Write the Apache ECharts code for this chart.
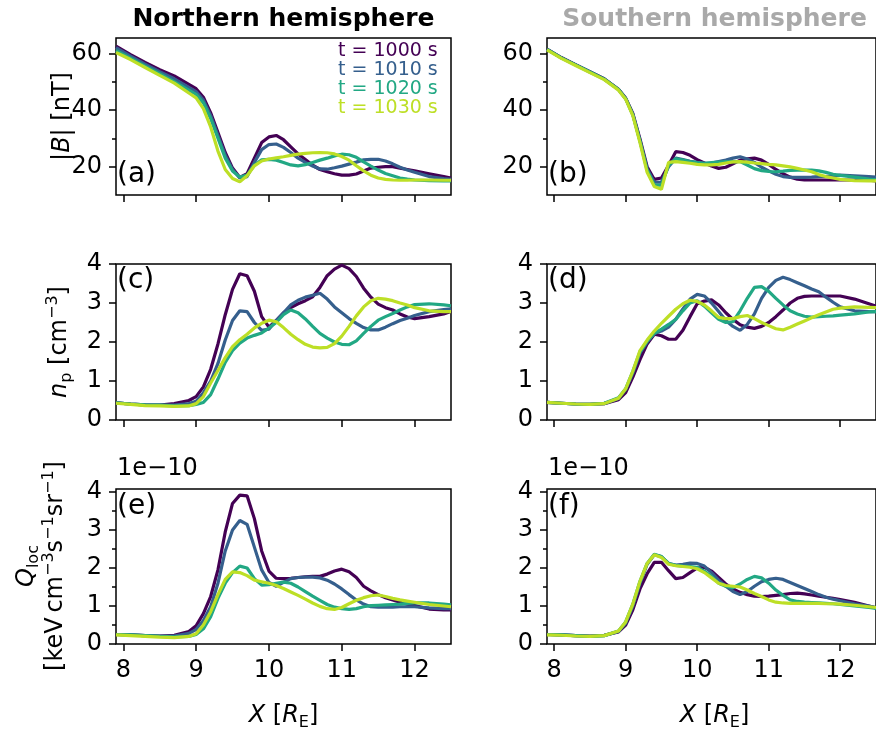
<!DOCTYPE html>
<html>
<head>
<meta charset="UTF-8">
<title>hemispheres</title>
<script src="https://cdn.jsdelivr.net/npm/echarts@6/dist/echarts.min.js"></script>
<style>
  html, body { margin: 0; padding: 0; background: #fff; }
  #chart { width: 876px; height: 730px; }
</style>
</head>
<body>
<div id="chart"></div>
<script>
// x positions along the cut [R_E]
const X = [7.9, 8.1, 8.3, 8.5, 8.7, 8.9, 9.0, 9.1, 9.2, 9.3, 9.4, 9.5, 9.6, 9.7, 9.8, 9.9,
  10.0, 10.1, 10.2, 10.3, 10.4, 10.5, 10.6, 10.7, 10.8, 10.9, 11.0, 11.1, 11.2, 11.3, 11.4,
  11.5, 11.6, 11.7, 11.8, 11.9, 12.0, 12.2, 12.4, 12.5];
const times = ['t = 1000 s', 't = 1010 s', 't = 1020 s', 't = 1030 s'];
const colors = ['#440154', '#355f8d', '#22a884', '#bddf26'];
const xTicks = [8, 9, 10, 11, 12];

// |B| [nT], northern
const bN1000 = [62.5, 59.5, 56.8, 54.2, 52.0, 49.0, 47.5, 44.5, 39.0, 32.0, 25.0, 19.5, 16.2, 17.5, 23.0, 28.5, 30.5, 31.0, 29.5, 27.0, 24.5, 22.5, 20.5, 19.0, 18.2, 17.5, 17.0, 17.0, 17.4, 18.5, 19.5, 19.8, 20.0, 20.0, 19.5, 19.0, 18.5, 17.5, 16.5, 16.0];
const bN1010 = [62.0, 59.0, 56.2, 53.5, 51.0, 48.0, 46.5, 43.5, 38.0, 31.0, 24.0, 19.0, 16.0, 16.5, 21.5, 26.0, 27.8, 28.0, 26.8, 25.0, 23.0, 21.5, 20.2, 19.2, 19.1, 19.6, 20.2, 20.9, 21.6, 22.4, 22.6, 22.6, 22.0, 21.0, 19.8, 18.8, 18.0, 16.5, 15.8, 15.5];
const bN1020 = [61.0, 58.3, 55.5, 52.8, 50.0, 47.0, 45.5, 42.5, 37.0, 30.0, 23.0, 18.5, 16.3, 17.0, 20.5, 22.4, 22.6, 22.3, 21.5, 20.6, 20.3, 20.7, 21.5, 22.3, 23.0, 23.8, 24.4, 24.2, 23.3, 21.7, 20.2, 18.8, 17.6, 16.8, 16.0, 15.6, 15.3, 15.1, 15.0, 15.0];
const bN1030 = [60.3, 57.8, 55.0, 52.2, 49.5, 46.0, 44.3, 40.5, 34.0, 25.5, 19.0, 15.8, 14.7, 16.8, 20.3, 22.0, 22.7, 23.1, 23.5, 24.0, 24.4, 24.7, 24.9, 25.0, 24.9, 24.5, 23.6, 22.3, 20.3, 18.5, 17.0, 16.0, 15.5, 15.3, 15.2, 15.2, 15.3, 15.3, 15.2, 15.2];
// |B| [nT], southern
const bS1000 = [61.5, 58.5, 56.0, 53.5, 51.0, 47.3, 44.2, 38.8, 29.8, 20.0, 15.5, 16.0, 20.5, 25.3, 25.0, 24.0, 22.5, 21.3, 20.2, 19.4, 19.8, 21.0, 22.3, 22.8, 23.0, 22.3, 20.8, 19.0, 17.5, 16.3, 15.6, 15.3, 15.3, 15.3, 15.3, 15.3, 15.3, 15.3, 15.2, 15.0];
const bS1010 = [61.4, 58.4, 55.9, 53.4, 50.9, 47.2, 44.0, 38.5, 29.2, 19.2, 14.5, 14.5, 20.0, 23.0, 22.5, 21.9, 21.5, 21.2, 21.3, 21.8, 22.3, 23.0, 23.5, 22.7, 21.5, 19.8, 18.5, 17.3, 16.5, 16.2, 16.2, 16.2, 16.3, 16.5, 16.6, 16.8, 17.0, 16.8, 16.5, 16.3];
const bS1020 = [61.4, 58.4, 55.9, 53.4, 50.9, 47.2, 44.0, 38.3, 29.0, 18.8, 13.5, 13.5, 20.5, 22.8, 22.3, 21.8, 21.4, 21.2, 21.4, 21.6, 21.8, 21.8, 21.8, 20.6, 19.3, 18.6, 18.3, 18.2, 18.4, 18.7, 18.8, 18.8, 18.8, 18.5, 18.0, 17.3, 16.9, 16.3, 15.6, 15.3];
const bS1030 = [61.2, 58.2, 55.7, 53.2, 50.7, 47.0, 43.8, 38.0, 28.5, 18.0, 13.0, 12.0, 21.5, 21.8, 21.5, 21.2, 20.8, 20.6, 20.6, 20.8, 21.3, 21.7, 21.8, 21.6, 21.3, 21.1, 20.8, 20.6, 20.3, 19.9, 19.4, 18.8, 18.2, 17.2, 16.5, 16.0, 15.5, 15.1, 15.0, 15.0];

// n_p [cm^-3], northern
const nN1000 = [0.44, 0.41, 0.39, 0.38, 0.42, 0.50, 0.60, 0.85, 1.30, 1.95, 2.70, 3.35, 3.75, 3.70, 3.30, 2.65, 2.38, 2.55, 2.75, 2.88, 2.98, 3.06, 3.16, 3.40, 3.70, 3.87, 3.97, 3.88, 3.68, 3.38, 3.15, 2.97, 2.88, 2.82, 2.72, 2.64, 2.60, 2.65, 2.72, 2.78];
const nN1010 = [0.44, 0.41, 0.39, 0.38, 0.38, 0.42, 0.48, 0.70, 1.00, 1.45, 2.05, 2.55, 2.80, 2.78, 2.50, 2.30, 2.33, 2.55, 2.75, 2.95, 3.07, 3.15, 3.20, 3.25, 3.10, 2.90, 2.75, 2.60, 2.48, 2.37, 2.31, 2.31, 2.38, 2.47, 2.55, 2.61, 2.68, 2.78, 2.83, 2.85];
const nN1020 = [0.44, 0.41, 0.39, 0.38, 0.36, 0.37, 0.40, 0.45, 0.65, 1.05, 1.48, 1.78, 1.97, 2.10, 2.17, 2.23, 2.36, 2.50, 2.70, 2.82, 2.75, 2.59, 2.40, 2.22, 2.10, 2.00, 1.94, 1.93, 2.03, 2.22, 2.40, 2.56, 2.65, 2.73, 2.82, 2.90, 2.96, 2.98, 2.95, 2.93];
const nN1030 = [0.43, 0.40, 0.37, 0.36, 0.35, 0.36, 0.42, 0.60, 0.95, 1.27, 1.60, 1.88, 2.06, 2.20, 2.36, 2.48, 2.56, 2.52, 2.37, 2.20, 2.06, 1.94, 1.87, 1.85, 1.86, 1.96, 2.15, 2.40, 2.67, 2.90, 3.06, 3.12, 3.10, 3.06, 3.00, 2.95, 2.88, 2.80, 2.78, 2.78];
// n_p [cm^-3], southern
const nS1000 = [0.45, 0.43, 0.41, 0.40, 0.42, 0.52, 0.70, 1.10, 1.55, 1.95, 2.20, 2.16, 2.07, 2.07, 2.30, 2.65, 2.98, 3.05, 3.08, 2.95, 2.75, 2.58, 2.44, 2.38, 2.35, 2.40, 2.50, 2.65, 2.82, 3.00, 3.12, 3.17, 3.18, 3.18, 3.18, 3.18, 3.18, 3.10, 2.98, 2.92];
const nS1010 = [0.45, 0.43, 0.41, 0.40, 0.42, 0.55, 0.78, 1.20, 1.72, 2.00, 2.22, 2.28, 2.38, 2.58, 2.85, 3.10, 3.22, 3.18, 3.00, 2.78, 2.55, 2.40, 2.30, 2.45, 2.72, 3.12, 3.40, 3.58, 3.66, 3.60, 3.52, 3.44, 3.36, 3.29, 3.15, 3.02, 2.90, 2.80, 2.78, 2.78];
const nS1020 = [0.45, 0.43, 0.41, 0.40, 0.43, 0.57, 0.80, 1.25, 1.75, 2.02, 2.22, 2.33, 2.45, 2.58, 2.80, 3.00, 3.06, 2.92, 2.75, 2.58, 2.50, 2.52, 2.80, 3.12, 3.40, 3.42, 3.30, 3.12, 2.95, 2.80, 2.72, 2.66, 2.64, 2.65, 2.66, 2.67, 2.69, 2.72, 2.77, 2.78];
const nS1030 = [0.45, 0.43, 0.41, 0.40, 0.42, 0.56, 0.80, 1.25, 1.78, 2.05, 2.28, 2.48, 2.66, 2.84, 2.98, 3.07, 3.04, 2.95, 2.80, 2.63, 2.60, 2.60, 2.65, 2.68, 2.60, 2.50, 2.42, 2.34, 2.31, 2.38, 2.46, 2.54, 2.62, 2.70, 2.77, 2.84, 2.87, 2.90, 2.89, 2.88];

// Q_loc in units of 1e-10 keV cm^-3 s^-1 sr^-1, northern
const qN1000 = [0.25, 0.24, 0.22, 0.21, 0.23, 0.33, 0.48, 0.80, 1.25, 1.95, 2.95, 3.70, 3.92, 3.90, 3.30, 2.45, 1.92, 1.73, 1.72, 1.73, 1.75, 1.77, 1.78, 1.78, 1.84, 1.92, 1.97, 1.90, 1.75, 1.52, 1.40, 1.30, 1.22, 1.16, 1.10, 1.05, 1.01, 0.92, 0.90, 0.90];
const qN1010 = [0.25, 0.24, 0.22, 0.21, 0.21, 0.28, 0.38, 0.62, 0.98, 1.60, 2.45, 3.00, 3.25, 3.15, 2.55, 1.95, 1.62, 1.52, 1.62, 1.72, 1.75, 1.76, 1.76, 1.74, 1.68, 1.58, 1.45, 1.30, 1.16, 1.05, 0.98, 0.97, 0.97, 0.97, 0.98, 0.98, 0.98, 0.95, 0.93, 0.93];
const qN1020 = [0.25, 0.24, 0.22, 0.20, 0.19, 0.20, 0.25, 0.40, 0.72, 1.20, 1.60, 1.88, 2.05, 2.00, 1.72, 1.55, 1.56, 1.60, 1.63, 1.60, 1.50, 1.38, 1.26, 1.15, 1.04, 0.97, 0.93, 0.91, 0.93, 0.98, 1.01, 1.02, 1.03, 1.04, 1.05, 1.07, 1.08, 1.08, 1.05, 1.03];
const qN1030 = [0.24, 0.22, 0.20, 0.18, 0.17, 0.20, 0.27, 0.50, 0.85, 1.30, 1.70, 1.90, 1.88, 1.80, 1.68, 1.64, 1.60, 1.54, 1.46, 1.37, 1.28, 1.18, 1.08, 0.99, 0.93, 0.91, 0.96, 1.06, 1.15, 1.22, 1.27, 1.29, 1.25, 1.20, 1.16, 1.13, 1.10, 1.04, 1.00, 0.98];
// Q_loc, southern
const qS1000 = [0.25, 0.24, 0.22, 0.21, 0.23, 0.32, 0.50, 0.90, 1.45, 1.85, 2.15, 2.15, 1.93, 1.72, 1.75, 1.88, 2.00, 2.02, 1.92, 1.75, 1.58, 1.45, 1.36, 1.30, 1.26, 1.25, 1.26, 1.28, 1.30, 1.33, 1.34, 1.32, 1.29, 1.26, 1.23, 1.20, 1.17, 1.10, 1.00, 0.95];
const qS1010 = [0.25, 0.24, 0.22, 0.20, 0.22, 0.33, 0.55, 1.00, 1.60, 2.10, 2.35, 2.30, 2.12, 2.08, 2.10, 2.13, 2.12, 2.05, 1.88, 1.68, 1.52, 1.38, 1.30, 1.38, 1.52, 1.64, 1.70, 1.73, 1.70, 1.62, 1.54, 1.46, 1.38, 1.30, 1.23, 1.18, 1.14, 1.06, 1.00, 0.96];
const qS1020 = [0.25, 0.24, 0.22, 0.20, 0.22, 0.34, 0.58, 1.05, 1.65, 2.12, 2.36, 2.30, 2.12, 2.07, 2.05, 2.04, 2.02, 1.92, 1.78, 1.60, 1.52, 1.48, 1.58, 1.70, 1.78, 1.74, 1.60, 1.42, 1.28, 1.16, 1.12, 1.10, 1.09, 1.08, 1.07, 1.06, 1.04, 1.00, 0.96, 0.94];
const qS1030 = [0.24, 0.23, 0.21, 0.20, 0.22, 0.34, 0.58, 1.05, 1.65, 2.12, 2.35, 2.28, 2.10, 2.06, 2.04, 2.02, 1.98, 1.88, 1.74, 1.60, 1.54, 1.52, 1.50, 1.42, 1.33, 1.25, 1.16, 1.10, 1.08, 1.07, 1.07, 1.07, 1.07, 1.07, 1.06, 1.06, 1.05, 1.02, 0.98, 0.96];

const FONT = '"DejaVu Sans", sans-serif';
const colLeft = [116, 547];
const rowTop = [38, 264, 489];
const rowHeight = [157, 156, 155];

const panels = [
  { label: '(a)', lines: [bN1000, bN1010, bN1020, bN1030], yMin: 10, yMax: 65.4, yTicks: [20, 40, 60], yMinor: [30, 50] },
  { label: '(b)', lines: [bS1000, bS1010, bS1020, bS1030], yMin: 10, yMax: 65.4, yTicks: [20, 40, 60], yMinor: [30, 50] },
  { label: '(c)', lines: [nN1000, nN1010, nN1020, nN1030], yMin: 0, yMax: 4, yTicks: [0, 1, 2, 3, 4], yMinor: null },
  { label: '(d)', lines: [nS1000, nS1010, nS1020, nS1030], yMin: 0, yMax: 4, yTicks: [0, 1, 2, 3, 4], yMinor: null },
  { label: '(e)', lines: [qN1000, qN1010, qN1020, qN1030], yMin: 0, yMax: 4.08, yTicks: [0, 1, 2, 3, 4], yMinor: [0.5, 1.5, 2.5, 3.5] },
  { label: '(f)', lines: [qS1000, qS1010, qS1020, qS1030], yMin: 0, yMax: 4.08, yTicks: [0, 1, 2, 3, 4], yMinor: [0.5, 1.5, 2.5, 3.5] }
];

const tickStyle = { color: '#000', width: 1.5 };
const grid = [], xAxis = [], yAxis = [], series = [], graphic = [];

panels.forEach(function (p, i) {
  const col = i % 2, row = Math.floor(i / 2);
  grid.push({
    left: colLeft[col], top: rowTop[row], width: 335, height: rowHeight[row],
    show: true, borderColor: '#000', borderWidth: 1.5, backgroundColor: 'transparent'
  });
  xAxis.push({
    gridIndex: i, type: 'value', min: 7.9, max: 12.5,
    axisLine: { show: false }, splitLine: { show: false },
    axisTick: { show: true, customValues: xTicks, length: 7, lineStyle: tickStyle },
    axisLabel: { show: row === 2, customValues: xTicks, margin: 15, fontSize: 24, fontFamily: FONT, color: '#000' }
  });
  yAxis.push({
    gridIndex: i, type: 'value', position: 'left', min: p.yMin, max: p.yMax,
    axisLine: { show: false }, splitLine: { show: false },
    axisTick: { show: true, customValues: p.yTicks, length: 7, lineStyle: tickStyle },
    axisLabel: { customValues: p.yTicks, margin: 14, fontSize: 24, fontFamily: FONT, color: '#000' }
  });
  p.lines.forEach(function (arr, k) {
    series.push({
      type: 'line', name: times[k], xAxisIndex: i, yAxisIndex: i,
      data: X.map(function (x, j) { return [x, arr[j]]; }),
      showSymbol: false, symbol: 'none', smooth: false,
      lineStyle: { width: 3.2, color: colors[k] }, itemStyle: { color: colors[k] },
      z: 2 + k
    });
  });
  graphic.push({
    type: 'text', x: colLeft[col] + 1, y: [175, 281, 507][row],
    style: { text: p.label, font: '28px ' + FONT, fill: '#000', align: 'left', verticalAlign: 'middle', textAlign: 'left', textVerticalAlign: 'middle' }
  });
});

// minor ticks as overlaid axes
panels.forEach(function (p, i) {
  if (!p.yMinor) return;
  yAxis.push({
    gridIndex: i, type: 'value', position: 'left', min: p.yMin, max: p.yMax,
    axisLine: { show: false }, splitLine: { show: false },
    axisTick: { show: true, customValues: p.yMinor, length: 4, lineStyle: tickStyle },
    axisLabel: { show: false }
  });
});

function txt(x, y, text, font, color, rot, rich) {
  return {
    type: 'text', x: x, y: y, rotation: rot || 0,
    style: {
      text: text, font: font, fill: color, lineHeight: 30,
      align: 'center', verticalAlign: 'middle', textAlign: 'center', textVerticalAlign: 'middle',
      rich: rich || {}
    }
  };
}
const richMath = {
  i: { fontStyle: 'italic', fontSize: 24, fontFamily: 'DejaVu Sans', lineHeight: 30, fill: '#000' },
  sub: { fontSize: 16, fontFamily: 'DejaVu Sans', lineHeight: 16, verticalAlign: 'bottom', fill: '#000' },
  sup: { fontSize: 16, fontFamily: 'DejaVu Sans', lineHeight: 16, verticalAlign: 'top', fill: '#000' }
};
const F24 = '24px ' + FONT;

graphic.push(txt(283.5, 19, 'Northern hemisphere', 'bold 25px ' + FONT, '#000'));
graphic.push(txt(714.5, 19, 'Southern hemisphere', 'bold 25px ' + FONT, '#a9a9a9'));
graphic.push(txt(283.5, 716, '{i|X} [{i|R}{sub|E}]', F24, '#000', 0, richMath));
graphic.push(txt(714.5, 716, '{i|X} [{i|R}{sub|E}]', F24, '#000', 0, richMath));
graphic.push(txt(63, 116.5, '|{i|B}| [nT]', F24, '#000', Math.PI / 2, richMath));
graphic.push(txt(60, 342, '{i|n}{sub|p} [cm{sup|\u22123}]', F24, '#000', Math.PI / 2, richMath));
graphic.push(txt(27, 566, '{i|Q}{sub|loc}', F24, '#000', Math.PI / 2, richMath));
graphic.push(txt(56, 566, '[keV\u2009cm{sup|\u22123}s{sup|\u22121}sr{sup|\u22121}]', F24, '#000', Math.PI / 2, richMath));
[116, 547].forEach(function (lx) {
  graphic.push({
    type: 'text', x: lx + 1, y: 469,
    style: { text: '1e\u221210', font: F24, fill: '#000', align: 'left', verticalAlign: 'middle', textAlign: 'left', textVerticalAlign: 'middle' }
  });
});

const chart = echarts.init(document.getElementById('chart'), null, { renderer: 'canvas' });
chart.setOption({
  animation: false,
  backgroundColor: '#fff',
  grid: grid,
  xAxis: xAxis,
  yAxis: yAxis,
  legend: {
    data: times.map(function (t, k) { return { name: t, textStyle: { color: colors[k] } }; }),
    orient: 'vertical', left: 333, top: 41.5, padding: 0, itemGap: 0,
    itemWidth: 0, itemHeight: 0, selectedMode: false,
    itemStyle: { opacity: 0 }, lineStyle: { opacity: 0, width: 0 },
    textStyle: { fontSize: 19, fontFamily: FONT, lineHeight: 19 }
  },
  graphic: graphic,
  series: series
});
</script>
</body>
</html>
